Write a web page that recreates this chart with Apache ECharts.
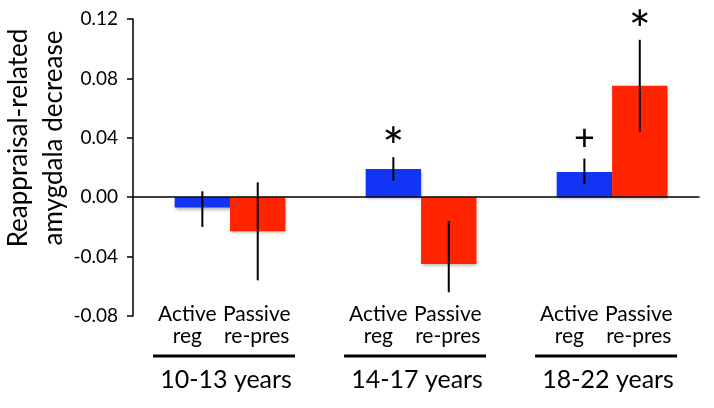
<!DOCTYPE html>
<html>
<head>
<meta charset="utf-8">
<script src="https://cdn.jsdelivr.net/npm/echarts@6/dist/echarts.min.js"></script>
<style>
html,body{margin:0;padding:0;background:#fff;}
#c{width:714px;height:408px;}
</style>
</head>
<body>
<div id="c"></div>
<script>
// ---- data ----
var groups = ['10-13 years', '14-17 years', '18-22 years'];
var condTop = ['Active', 'Passive'];
var condBottom = ['reg', 're-pres'];
var activeVals = [-0.007, 0.019, 0.017];
var activeLo   = [-0.020, 0.011, 0.009];
var activeHi   = [0.004, 0.027, 0.026];
var passiveVals = [-0.023, -0.045, 0.075];
var passiveLo   = [-0.056, -0.064, 0.044];
var passiveHi   = [0.010, -0.016, 0.106];
var activeSig  = ['', '*', '+'];
var passiveSig = ['', '', '*'];
var yTicks = [-0.08, -0.04, 0.00, 0.04, 0.08, 0.12];
var yTitle = ['Reappraisal-related', 'amygdala decrease'];

var FONT = 'Lato';
var BW = 0.29;
var BLUE = '#1234f4';
var RED = '#ff2500';

function mkData(vals, lo, hi) {
  return vals.map(function (v, i) { return [i, v, lo[i], hi[i]]; });
}

function barRender(side, color, sigArr) {
  return function (params, api) {
    var i = api.value(0), v = api.value(1), lo = api.value(2), hi = api.value(3);
    var x0 = side < 0 ? i - BW : i;
    var x1 = side < 0 ? i : i + BW;
    var p0 = api.coord([x0, 0]);
    var p1 = api.coord([x1, v]);
    var xc = api.coord([(x0 + x1) / 2, 0])[0];
    var top = api.coord([i, hi])[1];
    var bot = api.coord([i, lo])[1];
    var ch = [
      {type: 'rect', shape: {x: Math.min(p0[0], p1[0]), y: Math.min(p0[1], p1[1]),
        width: Math.abs(p1[0] - p0[0]), height: Math.abs(p1[1] - p0[1])},
        style: {fill: color, shadowBlur: 3, shadowOffsetX: 1, shadowOffsetY: 2, shadowColor: 'rgba(0,0,0,0.3)'}},
      {type: 'line', shape: {x1: xc, y1: top, x2: xc, y2: bot}, style: {stroke: '#000', lineWidth: 2}}
    ];
    var s = sigArr[params.dataIndex];
    if (s) {
      ch.push({type: 'text', x: xc, y: top - (s === '*' ? 8 : 20),
        style: {text: s, fill: '#000', font: (s === '*' ? '52px ' : '36px ') + FONT, textAlign: 'center', textVerticalAlign: 'middle'}});
    }
    return {type: 'group', children: ch};
  };
}

function labelRender(params, api) {
  var i = api.value(0);
  var base = api.coord([i, -0.08]);
  var yb = base[1];
  var xa = api.coord([i - BW / 2, 0])[0] - 15;
  var xp = api.coord([i + BW / 2, 0])[0] - 1;
  var xc = base[0];
  var f1 = '21px ' + FONT;
  var ch = [
    {type: 'text', x: xa, y: yb - 2, style: {text: condTop[0], font: f1, fill: '#000', textAlign: 'center', textVerticalAlign: 'middle'}},
    {type: 'text', x: xp, y: yb - 2, style: {text: condTop[1], font: f1, fill: '#000', textAlign: 'center', textVerticalAlign: 'middle'}},
    {type: 'text', x: xa, y: yb + 20, style: {text: condBottom[0], font: f1, fill: '#000', textAlign: 'center', textVerticalAlign: 'middle'}},
    {type: 'text', x: xp, y: yb + 20, style: {text: condBottom[1], font: f1, fill: '#000', textAlign: 'center', textVerticalAlign: 'middle'}},
    {type: 'line', shape: {x1: xc - 77, y1: yb + 40, x2: xc + 65, y2: yb + 40}, style: {stroke: '#000', lineWidth: 3}},
    {type: 'text', x: xc - 4, y: yb + 64, style: {text: groups[params.dataIndex], font: '25px ' + FONT, fill: '#000', textAlign: 'center', textVerticalAlign: 'middle'}}
  ];
  return {type: 'group', children: ch};
}

var chart = echarts.init(document.getElementById('c'), null, {renderer: 'canvas'});
chart.setOption({
  animation: false,
  backgroundColor: '#fff',
  grid: {left: 133, right: 15, top: 19, bottom: 92},
  xAxis: {
    type: 'value', min: -0.508, max: 2.455, z: 5,
    axisLine: {onZero: true, lineStyle: {color: '#000', width: 1.5}},
    axisTick: {show: false}, axisLabel: {show: false}, splitLine: {show: false}
  },
  yAxis: {
    type: 'value', min: yTicks[0], max: yTicks[yTicks.length - 1], interval: 0.04,
    axisLine: {show: true, onZero: false, lineStyle: {color: '#000', width: 1.5}},
    axisTick: {show: true, length: 6, lineStyle: {color: '#000', width: 1.5}},
    axisLabel: {margin: 15, color: '#000', fontFamily: FONT, fontSize: 19,
      formatter: function (v) { return v.toFixed(2); }},
    splitLine: {show: false}
  },
  graphic: [{
    type: 'text', x: 36, y: 138, rotation: Math.PI / 2,
    style: {text: yTitle.join('\n'), font: '26px ' + FONT, lineHeight: 35, fill: '#000', textAlign: 'center', textVerticalAlign: 'middle'}
  }],
  series: [
    {type: 'custom', name: 'Active', clip: false, data: mkData(activeVals, activeLo, activeHi), renderItem: barRender(-1, BLUE, activeSig)},
    {type: 'custom', name: 'Passive', clip: false, data: mkData(passiveVals, passiveLo, passiveHi), renderItem: barRender(1, RED, passiveSig)},
    {type: 'custom', name: 'labels', clip: false, data: groups.map(function (g, i) { return [i, 0]; }), renderItem: labelRender}
  ]
});
</script>
</body>
</html>
